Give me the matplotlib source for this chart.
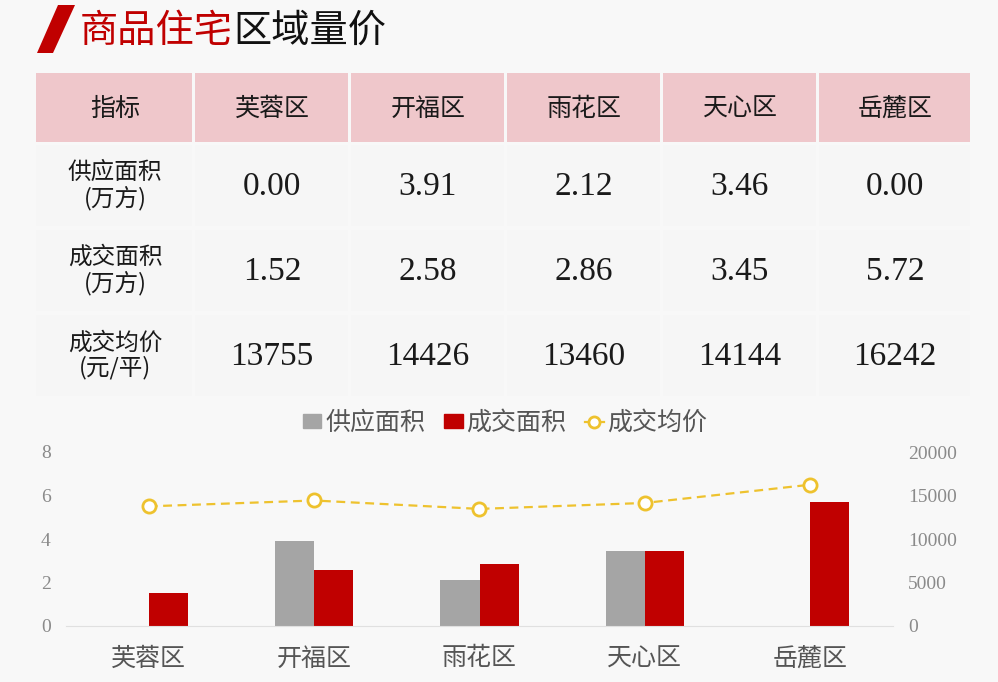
import matplotlib.pyplot as plt
import numpy as np
from matplotlib.patches import Rectangle, Polygon
from matplotlib.lines import Line2D

plt.rcParams['font.family'] = ['Noto Sans CJK SC', 'DejaVu Sans']

# ---- data ----
districts = ["芙蓉区", "开福区", "雨花区", "天心区", "岳麓区"]
supply_area = [0.00, 3.91, 2.12, 3.46, 0.00]
deal_area = [1.52, 2.58, 2.86, 3.45, 5.72]
avg_price = [13755, 14426, 13460, 14144, 16242]
row_labels = ["供应面积\n(万方)", "成交面积\n(万方)", "成交均价\n(元/平)"]
header_first = "指标"
series_names = ["供应面积", "成交面积", "成交均价"]

RED = "#C00000"
GREY = "#A5A5A5"
GOLD = "#EEC22E"
PINK = "#EFC7CB"
BG = "#F8F8F8"
SERIF = ["Liberation Serif", "DejaVu Serif"]

W, H = 998, 682
fig = plt.figure(figsize=(W / 100, H / 100), dpi=100, facecolor=BG)

# overlay axes in pixel coords for title + table
ov = fig.add_axes([0, 0, 1, 1])
ov.set_xlim(0, W)
ov.set_ylim(H, 0)
ov.axis("off")

# title
ov.add_patch(Polygon([[58, 5], [75, 5], [53, 53], [37, 53]], closed=True,
                     color=RED, lw=0))
ov.text(80, 31, "商品住宅", color=RED, fontsize=27.5, va="center", ha="left",
        fontweight="light")
ov.text(233, 31, "区域量价", color="#111111", fontsize=27.5, va="center",
        ha="left", fontweight="light")

# table
col_x = [36, 194, 350, 506, 662, 818, 972]
row_y = [73, 143, 228, 313, 398]
gap = 3
for c in range(6):
    x0, x1 = col_x[c] + (gap / 2 if c else 0), col_x[c + 1] - gap / 2
    ov.add_patch(Rectangle((x0, row_y[0]), x1 - x0, row_y[1] - row_y[0] - 1,
                           color=PINK, lw=0))
    for r in range(3):
        ov.add_patch(Rectangle((x0, row_y[r + 1] + 2), x1 - x0,
                               row_y[r + 2] - row_y[r + 1] - 4,
                               color="#F6F6F6", lw=0))

hdr_y = (row_y[0] + row_y[1]) / 2 + 1
ov.text((col_x[0] + col_x[1]) / 2, hdr_y, header_first, fontsize=18,
        ha="center", va="center", color="#1A1A1A")
for c, d in enumerate(districts):
    ov.text((col_x[c + 1] + col_x[c + 2]) / 2, hdr_y, d, fontsize=18,
            ha="center", va="center", color="#1A1A1A")

table_rows = [
    [f"{v:.2f}" for v in supply_area],
    [f"{v:.2f}" for v in deal_area],
    [f"{v:d}" for v in avg_price],
]
for r in range(3):
    cy = (row_y[r + 1] + row_y[r + 2]) / 2
    ov.text((col_x[0] + col_x[1]) / 2, cy, row_labels[r], fontsize=17,
            ha="center", va="center", color="#1A1A1A", linespacing=1.1)
    for c in range(5):
        ov.text((col_x[c + 1] + col_x[c + 2]) / 2, cy + 1, table_rows[r][c],
                fontsize=24, ha="center", va="center", color="#1A1A1A",
                family=SERIF)

# ---- combo chart ----
ax = fig.add_axes([66 / W, (H - 626) / H, (893 - 66) / W, (626 - 452) / H])
ax.set_facecolor("none")
x = np.arange(len(districts))
bw = 0.236
ax.bar(x - bw / 2, supply_area, bw, color=GREY, label=series_names[0], zorder=2)
ax.bar(x + bw / 2, deal_area, bw, color=RED, label=series_names[1], zorder=2)
ax.set_xlim(-0.5, len(districts) - 0.5)
ax.set_ylim(0, 8)
ax.set_yticks([0, 2, 4, 6, 8])
ax.set_xticks(x)
ax.set_xticklabels(districts, fontsize=18, color="#555555")
for lbl in ax.get_yticklabels():
    lbl.set_family(SERIF)
    lbl.set_fontsize(14)
    lbl.set_color("#8A8A8A")
ax.tick_params(axis="y", length=0, pad=11)
ax.tick_params(axis="x", length=0, pad=14)
for s in ["top", "right", "left"]:
    ax.spines[s].set_visible(False)
ax.spines["bottom"].set_color("#E0E0E0")

ax2 = ax.twinx()
ax2.plot(x, avg_price, color=GOLD, lw=1.6, ls=(0, (4, 2.5)), marker="o",
         ms=9.5, mfc="white", mec=GOLD, mew=2, label=series_names[2], zorder=3)
ax2.set_ylim(0, 20000)
ax2.set_yticks([0, 5000, 10000, 15000, 20000])
for lbl in ax2.get_yticklabels():
    lbl.set_family(SERIF)
    lbl.set_fontsize(14)
    lbl.set_color("#8A8A8A")
ax2.tick_params(axis="y", length=0, pad=11)
for s in ["top", "right", "left", "bottom"]:
    ax2.spines[s].set_visible(False)

handles = [
    Rectangle((0, 0), 1, 1, color=GREY),
    Rectangle((0, 0), 1, 1, color=RED),
    Line2D([], [], color=GOLD, lw=1.6, marker="o", ms=8, mfc="white",
           mec=GOLD, mew=2),
]
leg = fig.legend(handles, series_names, loc="center", ncol=3,
                 bbox_to_anchor=(505 / W, (H - 423) / H), frameon=False,
                 fontsize=18, handlelength=0.75, handleheight=0.5,
                 handletextpad=0.15, columnspacing=0.75)
for t in leg.get_texts():
    t.set_color("#555555")

fig.savefig("out.png", dpi=100, facecolor=BG)
